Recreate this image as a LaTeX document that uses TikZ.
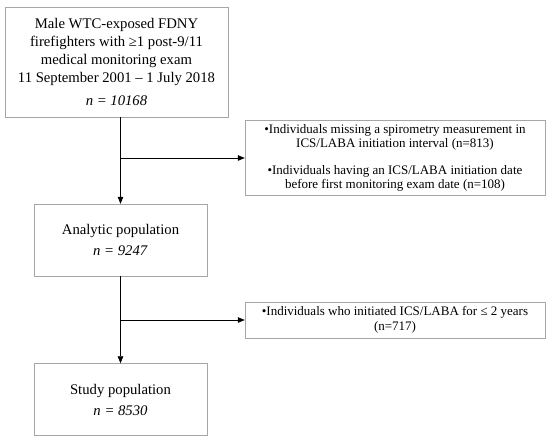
\documentclass[tikz,border=0pt]{standalone}
\usepackage{fontspec}
\setmainfont{Liberation Serif}
\usetikzlibrary{arrows.meta}
\begin{document}
\begin{tikzpicture}[x=1pt,y=1pt,every node/.style={draw=black!35,align=center,inner sep=2pt},
  big/.style={font=\fontsize{14.7}{18}\selectfont},
  small/.style={font=\fontsize{13}{14.5}\selectfont},
  arr/.style={-{Triangle[length=7pt,width=5.5pt]},line width=0.7pt}]
\useasboundingbox (0,0) rectangle (550,-440);
\node[big,minimum width=223,minimum height=110] (b0) at (116.5, -62) {Male WTC-exposed FDNY\\ firefighters with ≥1 post-9/11\\ medical monitoring exam\\ 11 September 2001 – 1 July 2018\\[5pt] \textit{n = 10168}};
\node[big,minimum width=173,minimum height=72] (b1) at (120.5, -240) {Analytic population\\[3pt] \textit{n = 9247}};
\node[big,minimum width=173,minimum height=72] (b2) at (120.5, -399.5) {Study population\\[3pt] \textit{n = 8530}};
\node[small,minimum width=300,minimum height=75] (r0) at (395, -158) {•Individuals missing a spirometry measurement in\\ ICS/LABA initiation interval (n=813)\\[12pt] •Individuals having an ICS/LABA initiation date\\ before first monitoring exam date (n=108)};
\node[small,minimum width=300,minimum height=36] (r1) at (395, -320) {•Individuals who initiated ICS/LABA for ≤ 2 years\\ (n=717)};
\coordinate (j0) at (120, -158);
\coordinate (j1) at (120, -320);
\draw[arr] (b1.north |- b0.south) -- (b1.north);
\draw[arr] (j0) -- (r0.west);
\draw[arr] (b1.south) -- (b2.north);
\draw[arr] (j1) -- (r1.west);
\end{tikzpicture}
\end{document}
